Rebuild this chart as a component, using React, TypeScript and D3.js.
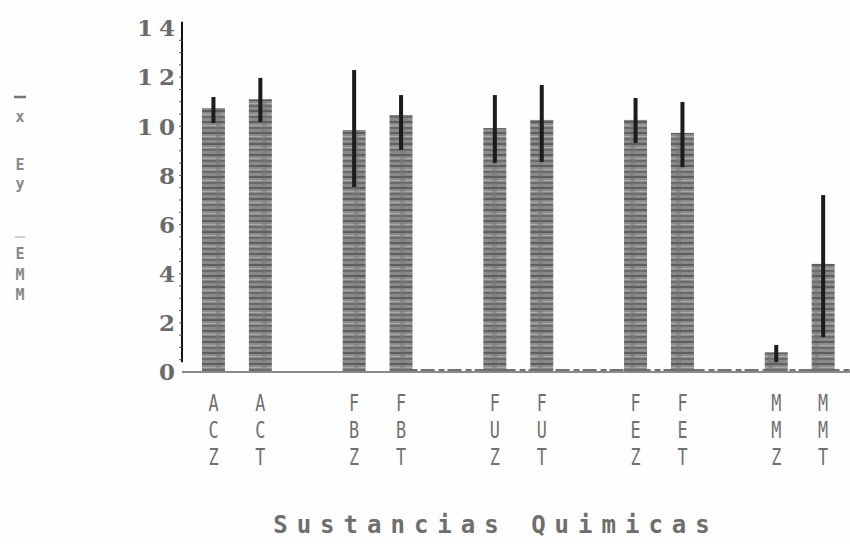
import { useRef, useEffect } from "react";
import * as d3 from "d3";

// Chemical substances (pairs Z / T), with blank slots between groups
const categories = ["ACZ", "ACT", "gap1", "FBZ", "FBT", "gap2", "FUZ", "FUT", "gap3", "FEZ", "FET", "gap4", "MMZ", "MMT"];
const substances = ["ACZ", "ACT", "FBZ", "FBT", "FUZ", "FUT", "FEZ", "FET", "MMZ", "MMT"];
const means = [10.74, 11.1, 9.85, 10.46, 9.93, 10.26, 10.26, 9.73, 0.8, 4.4];
const errHigh = [11.19, 11.97, 12.29, 11.27, 11.27, 11.68, 11.15, 10.99, 1.1, 7.2];
const errLow = [10.13, 10.17, 7.53, 9.04, 8.51, 8.55, 9.32, 8.34, 0.4, 1.42];
const yTicks = [0, 2, 4, 6, 8, 10, 12, 14];
const yLabelChars = ["x", "E", "y", "E", "M", "M"];

export default function App() {
  const svgRef = useRef<SVGSVGElement | null>(null);

  useEffect(() => {
    if (!svgRef.current) return;
    const width = 850;
    const height = 544;
    const svg = d3.select(svgRef.current);
    svg.selectAll("*").remove();
    svg.attr("viewBox", `0 0 ${width} ${height}`);

    const x = d3.scaleBand<string>().domain(categories).range([190, 846.6]).paddingInner(0.51).paddingOuter(0.255);
    const y = d3.scaleLinear().domain([0, 14]).range([372, 28]);

    // scanned-looking bar texture
    const defs = svg.append("defs");
    const pat = defs
      .append("pattern")
      .attr("id", "barTex")
      .attr("patternUnits", "userSpaceOnUse")
      .attr("width", 23)
      .attr("height", 11);
    pat.append("rect").attr("width", 23).attr("height", 11).attr("fill", "#8a8a8a");
    pat.append("rect").attr("y", 0).attr("width", 23).attr("height", 2).attr("fill", "#5e5e5e");
    pat.append("rect").attr("y", 4).attr("width", 23).attr("height", 1).attr("fill", "#ababab");
    pat.append("rect").attr("y", 6).attr("width", 23).attr("height", 2).attr("fill", "#6b6b6b");
    pat.append("rect").attr("x", 9).attr("y", 2).attr("width", 5).attr("height", 9).attr("fill", "#777").attr("opacity", 0.5);

    svg.append("rect").attr("width", width).attr("height", height).attr("fill", "#fefefe");

    // Baseline
    svg
      .append("line")
      .attr("x1", 182)
      .attr("x2", width)
      .attr("y1", y(0))
      .attr("y2", y(0))
      .attr("stroke", "#8a8a8a")
      .attr("stroke-width", 2);
    svg
      .append("line")
      .attr("x1", (x("FBT") ?? 0) + 4)
      .attr("x2", width)
      .attr("y1", y(0) - 2)
      .attr("y2", y(0) - 2)
      .attr("stroke", "#444")
      .attr("stroke-width", 1.5)
      .attr("stroke-dasharray", "14,4,6,3");

    // Bars
    const data = substances.map((s, i) => ({ s, m: means[i], hi: errHigh[i], lo: errLow[i] }));
    svg
      .append("g")
      .selectAll("rect")
      .data(data)
      .enter()
      .append("rect")
      .attr("x", (d) => x(d.s) ?? 0)
      .attr("y", (d) => y(d.m))
      .attr("width", x.bandwidth())
      .attr("height", (d) => y(0) - y(d.m))
      .attr("fill", "url(#barTex)");

    // Error bars
    svg
      .append("g")
      .selectAll("rect")
      .data(data)
      .enter()
      .append("rect")
      .attr("x", (d) => (x(d.s) ?? 0) + x.bandwidth() / 2 - 2)
      .attr("y", (d) => y(d.hi))
      .attr("width", 4)
      .attr("height", (d) => y(d.lo) - y(d.hi))
      .attr("fill", "#1c1c1c");

    // Y axis line
    svg
      .append("line")
      .attr("x1", 182)
      .attr("x2", 182)
      .attr("y1", y(14.25))
      .attr("y2", y(0.4))
      .attr("stroke", "#111")
      .attr("stroke-width", 2);
    svg
      .append("g")
      .selectAll("line")
      .data(d3.range(0.5, 14, 0.5))
      .enter()
      .append("line")
      .attr("x1", 179)
      .attr("x2", 182)
      .attr("y1", (d) => y(d))
      .attr("y2", (d) => y(d))
      .attr("stroke", "#555")
      .attr("stroke-width", 1);

    // Y tick labels
    svg
      .append("g")
      .selectAll("text")
      .data(yTicks)
      .enter()
      .append("text")
      .attr("x", 181)
      .attr("y", (d) => y(d))
      .attr("dy", "0.36em")
      .attr("text-anchor", "end")
      .attr("fill", "#6a6a6a")
      .attr("font-size", "23px")
      .attr("font-weight", "bold")
      .attr("letter-spacing", 6)
      .attr("font-family", "'DejaVu Serif', serif")
      .text((d) => d);

    // X tick labels (stacked letters)
    const xl = svg.append("g");
    substances.forEach((s) => {
      const cx = (x(s) ?? 0) + x.bandwidth() / 2;
      s.split("").forEach((ch, j) => {
        xl.append("text")
          .attr("transform", `translate(${cx},${411 + j * 27}) scale(0.7,0.95)`)
          .attr("text-anchor", "middle")
          .attr("fill", "#707070")
          .attr("font-size", "24px")
          .attr("font-family", "'DejaVu Sans Mono', monospace")
          .text(ch);
      });
    });

    // Y axis title (stacked)
    const yl = svg.append("g");
    const charY = [122, 170, 189, 259, 280, 300];
    yLabelChars.forEach((ch, j) => {
      yl.append("text")
        .attr("transform", `translate(20,${charY[j]}) scale(1,1.05)`)
        .attr("text-anchor", "middle")
        .attr("fill", "#888")
        .attr("font-size", "15px")
        .attr("font-weight", "bold")
        .attr("font-family", "'DejaVu Sans Mono', monospace")
        .text(ch);
    });
    yl.append("line").attr("x1", 14).attr("x2", 26).attr("y1", 97).attr("y2", 97).attr("stroke", "#777").attr("stroke-width", 2.5);
    yl.append("line").attr("x1", 15).attr("x2", 25).attr("y1", 237).attr("y2", 237).attr("stroke", "#ccc").attr("stroke-width", 2);

    // X axis title
    svg
      .append("text")
      .attr("x", 496)
      .attr("y", 533)
      .attr("text-anchor", "middle")
      .attr("fill", "#6e6e6e")
      .attr("font-size", "24px")
      .attr("font-weight", "bold")
      .attr("letter-spacing", 9)
      .attr("font-family", "'DejaVu Sans Mono', monospace")
      .text("Sustancias Quimicas");
  }, []);

  return (
    <div style={{ position: "absolute", left: 0, top: 0, width: 850, height: 544 }}>
      <svg ref={svgRef} width={850} height={544} style={{ display: "block" }} />
    </div>
  );
}
